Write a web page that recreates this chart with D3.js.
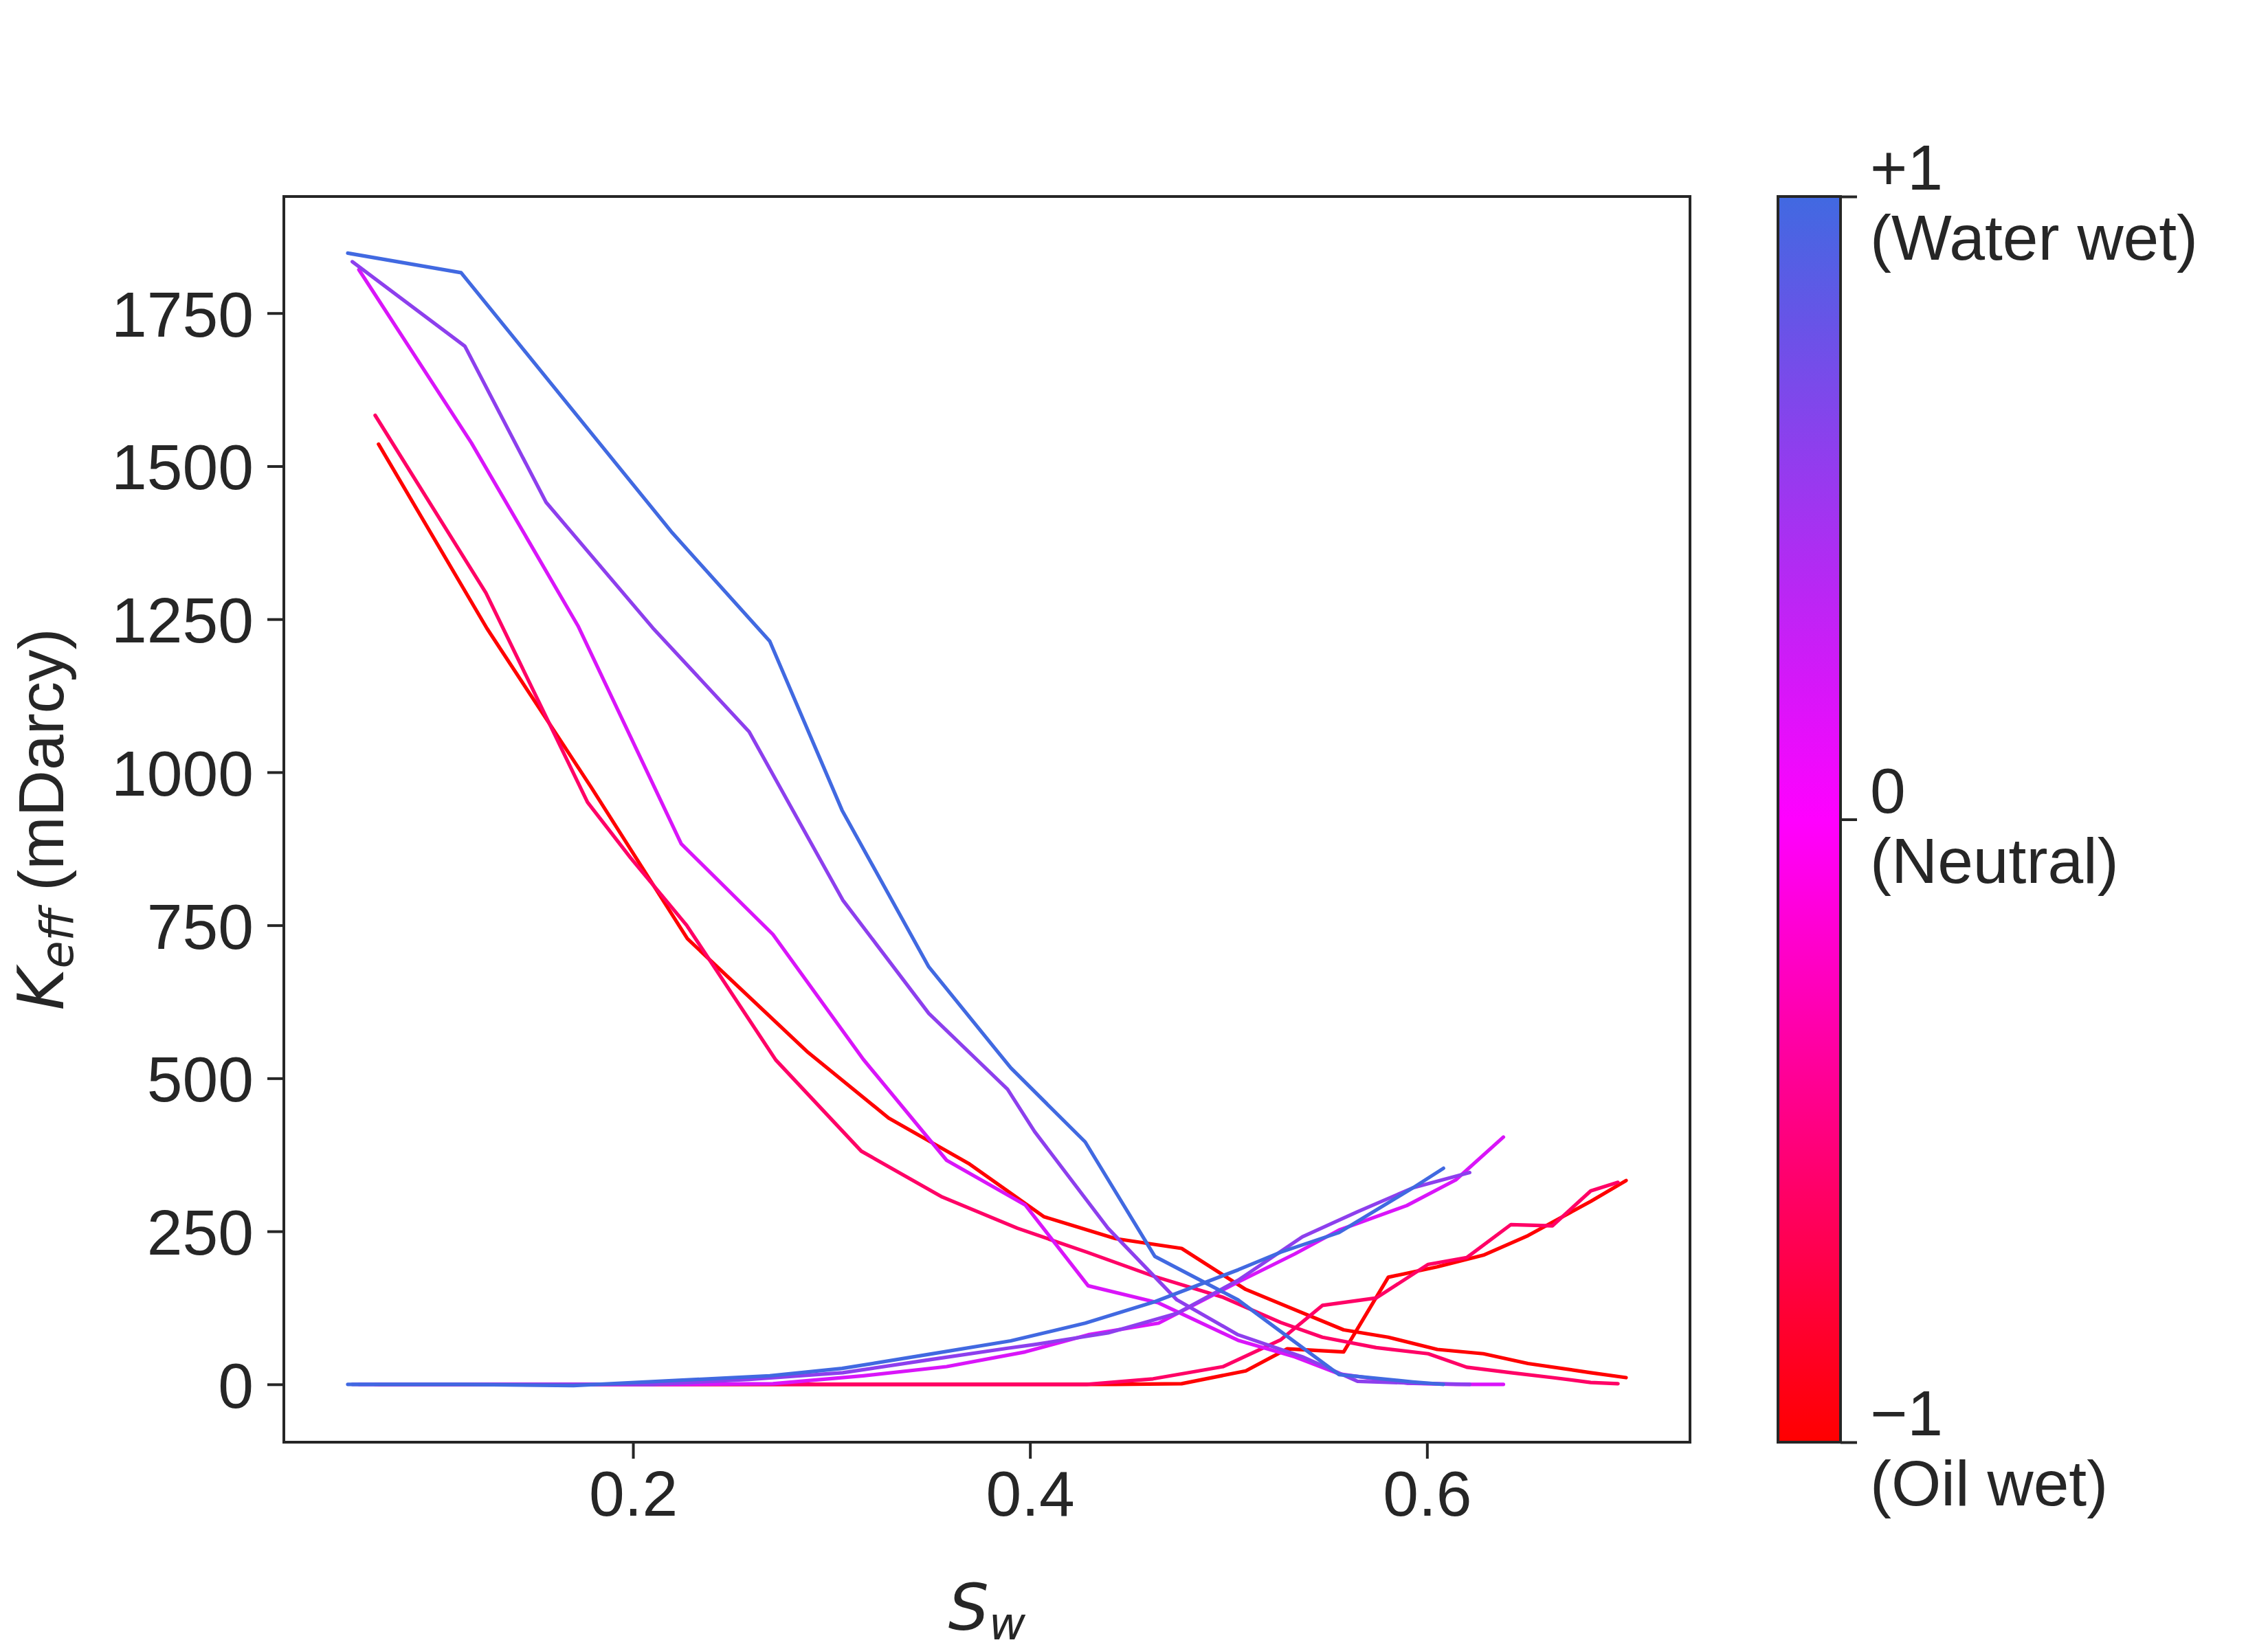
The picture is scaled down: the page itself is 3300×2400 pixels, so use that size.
<!DOCTYPE html>
<html>
<head>
<title>Keff vs Sw</title>
<script src="https://d3js.org/d3.v7.min.js"></script>
<style>
body, html {
  margin: 0;
  padding: 0;
  background: white;
}
svg {
  display: block;
}
</style>
</head>
<body>
<svg id="chart" width="3300" height="2400"></svg>
<script>

// wettability index of each run (-1 oil wet ... +1 water wet)
const wettability = [-1, -0.6, 0.2, 0.6, 1];

// w = -1
const swRed = [0.0718, 0.1264, 0.179, 0.2274, 0.2876, 0.3288, 0.369, 0.4069, 0.4431, 0.4764, 0.5087, 0.5296, 0.558, 0.5805, 0.6052, 0.6284, 0.6509, 0.6825, 0.7003];
const kOilRed = [1536, 1235, 975, 728, 544, 435, 361, 274, 238, 222, 155, 127, 89, 77, 57, 50, 34, 19, 11];
const kWaterRed = [0, 0, 0, 0, 0, 0, 0, 0, 0, 1, 22, 58, 53, 175, 192, 211, 243, 299, 333];

// w = -0.6
const swPink = [0.0701, 0.1259, 0.1771, 0.1988, 0.227, 0.2719, 0.315, 0.3558, 0.3937, 0.4286, 0.462, 0.4974, 0.5264, 0.5473, 0.5744, 0.6006, 0.62, 0.6423, 0.6632, 0.6825, 0.6962];
const kOilPink = [1583, 1293, 951, 860, 750, 530, 381, 306, 255, 216, 177, 142, 101, 77, 60, 50, 28, 19, 11, 3, 1];
const kWaterPink = [0, 0, 0, 0, 0, 0, 0, 0, 0, 0, 9, 29, 73, 129, 141, 196, 207, 261, 259, 316, 330];

// w = 0.2
const swMagenta = [0.0619, 0.1186, 0.1723, 0.2243, 0.2705, 0.316, 0.358, 0.3976, 0.4293, 0.4648, 0.5048, 0.5334, 0.5557, 0.5898, 0.6145, 0.6385];
const kOilMagenta = [1821, 1538, 1239, 883, 735, 531, 366, 293, 161, 133, 72, 45, 17, 2, 0, 0];
const kWaterMagenta = [0, 0, 0, 0, 1, 14, 29, 53, 81, 100, 167, 213, 252, 292, 334, 404];

// w = 0.6
const swPurple = [0.0586, 0.1153, 0.1562, 0.2099, 0.2585, 0.3057, 0.349, 0.3887, 0.4023, 0.4393, 0.474, 0.5048, 0.5372, 0.565, 0.5929, 0.6215];
const kOilPurple = [1834, 1696, 1441, 1236, 1066, 791, 606, 482, 413, 255, 138, 81, 45, 5, 2, 0];
const kWaterPurple = [0, 0, 0, 0, 8, 19, 40, 59, 65, 84, 116, 170, 241, 282, 321, 346];

// w = +1
const swBlue = [0.0563, 0.1134, 0.17, 0.2198, 0.2689, 0.3053, 0.349, 0.3903, 0.4278, 0.4629, 0.5048, 0.5264, 0.5557, 0.5929, 0.6083];
const kOilBlue = [1848, 1816, 1590, 1391, 1214, 938, 682, 517, 396, 209, 138, 86, 16, 4, 0];
const kWaterBlue = [0, 0, -2, 6, 14, 26, 49, 71, 100, 135, 187, 216, 248, 321, 353];

const yTicks = [0, 250, 500, 750, 1000, 1250, 1500, 1750];
const xTicks = [0.2, 0.4, 0.6];
const cbTicks = [1, 0, -1];
const cbTop = ["+1", "0", "\u22121"];
const cbBottom = ["(Water wet)", "(Neutral)", "(Oil wet)"];

const runs = [
  { sw: swRed, oil: kOilRed, water: kWaterRed },
  { sw: swPink, oil: kOilPink, water: kWaterPink },
  { sw: swMagenta, oil: kOilMagenta, water: kWaterMagenta },
  { sw: swPurple, oil: kOilPurple, water: kWaterPurple },
  { sw: swBlue, oil: kOilBlue, water: kWaterBlue }
];

const TEXT = "#262626";
const FONT = "'Liberation Sans', Arial, sans-serif";
const MATH = "'DejaVu Sans', sans-serif";
const FS = 93;

const cmap = d3.scaleLinear()
  .domain([-1, 0, 1])
  .range(["#ff0000", "#ff00ff", "#4169e1"])
  .interpolate(d3.interpolateRgb);

function padded(ext) {
  let r = ext[1] - ext[0];
  return [ext[0] - 0.05 * r, ext[1] + 0.05 * r];
}

function main() {
  const svg = d3.select("#chart");
  svg.append("rect").attr("width", 3300).attr("height", 2400).attr("fill", "white");

  let box = { left: 413, right: 2459, top: 286, bottom: 2099 };

  let allX = [], allY = [];
  runs.forEach(r => {
    allX = allX.concat(r.sw);
    allY = allY.concat(r.oil, r.water);
  });

  let x = d3.scaleLinear().domain(padded(d3.extent(allX))).range([box.left, box.right]);
  let y = d3.scaleLinear().domain(padded(d3.extent(allY))).range([box.bottom, box.top]);

  // curves
  let line = d3.line().x(d => x(d[0])).y(d => y(d[1]));
  let g = svg.append("g");
  runs.forEach((r, i) => {
    [r.oil, r.water].forEach(k => {
      g.append("path")
        .attr("fill", "none")
        .attr("stroke", cmap(wettability[i]))
        .attr("stroke-width", 5.2)
        .attr("stroke-linecap", "round")
        .attr("stroke-linejoin", "round")
        .attr("d", line(r.sw.map((s, j) => [s, k[j]])));
    });
  });

  // axes
  let xAxis = d3.axisBottom(x).tickValues(xTicks).tickSize(24).tickPadding(17)
    .tickFormat(d3.format(".1f"));
  let gx = svg.append("g").attr("transform", "translate(0," + box.bottom + ")").call(xAxis);

  let yAxis = d3.axisLeft(y).tickValues(yTicks).tickSize(24).tickPadding(20)
    .tickFormat(d3.format("d"));
  let gy = svg.append("g").attr("transform", "translate(" + box.left + ",0)").call(yAxis);

  [gx, gy].forEach(a => {
    a.select(".domain").remove();
    a.selectAll(".tick line").attr("stroke", TEXT).attr("stroke-width", 4);
    a.selectAll(".tick text").attr("fill", TEXT).style("font-family", FONT).style("font-size", FS + "px");
  });
  gy.selectAll(".tick text").attr("dy", "0.36em");

  svg.append("rect")
    .attr("x", box.left).attr("y", box.top)
    .attr("width", box.right - box.left).attr("height", box.bottom - box.top)
    .attr("fill", "none").attr("stroke", TEXT).attr("stroke-width", 4);

  // axis labels (nudged just inside the page edges)
  let xl = svg.append("text")
    .attr("x", (box.left + box.right) / 2).attr("y", 2372)
    .attr("text-anchor", "middle").attr("fill", TEXT)
    .style("font-family", MATH).style("font-size", FS + "px").style("font-style", "italic");
  xl.append("tspan").text("S");
  xl.append("tspan").attr("dy", 14).style("font-size", (FS * 0.7) + "px").text("w");

  let ymid = (box.top + box.bottom) / 2;
  let yl = svg.append("text")
    .attr("transform", "translate(92," + ymid + ") rotate(-90)")
    .attr("text-anchor", "middle").attr("fill", TEXT)
    .style("font-size", FS + "px");
  yl.append("tspan").style("font-family", MATH).style("font-style", "italic").text("K");
  yl.append("tspan").attr("dy", 14).style("font-family", MATH).style("font-style", "italic")
    .style("font-size", (FS * 0.7) + "px").text("eff");
  yl.append("tspan").attr("dy", -14).style("font-family", FONT).text("\u00a0(mDarcy)");

  drawColorbar(svg);
}

function drawColorbar(svg) {
  let cb = { left: 2587, right: 2678, top: 286, bottom: 2099 };

  let grad = svg.append("defs").append("linearGradient")
    .attr("id", "cbgrad").attr("x1", 0).attr("y1", 1).attr("x2", 0).attr("y2", 0);
  d3.range(0, 1.0001, 0.05).forEach(t => {
    grad.append("stop").attr("offset", t).attr("stop-color", cmap(-1 + 2 * t));
  });

  svg.append("rect")
    .attr("x", cb.left).attr("y", cb.top)
    .attr("width", cb.right - cb.left).attr("height", cb.bottom - cb.top)
    .attr("fill", "url(#cbgrad)").attr("stroke", TEXT).attr("stroke-width", 4);

  let c = d3.scaleLinear().domain([-1, 1]).range([cb.bottom, cb.top]);
  let cAxis = d3.axisRight(c).tickValues(cbTicks).tickSize(24).tickFormat("");
  let gc = svg.append("g").attr("transform", "translate(" + cb.right + ",0)").call(cAxis);
  gc.select(".domain").remove();
  gc.selectAll(".tick line").attr("stroke", TEXT).attr("stroke-width", 4);

  cbTicks.forEach((v, i) => {
    let t = svg.append("text")
      .attr("x", 2721).attr("y", c(v) - 10)
      .attr("fill", TEXT).style("font-family", FONT).style("font-size", FS + "px");
    t.append("tspan").attr("x", 2721).text(cbTop[i]);
    t.append("tspan").attr("x", 2721).attr("dy", 102).text(cbBottom[i]);
  });
}

main();

</script>
</body>
</html>
